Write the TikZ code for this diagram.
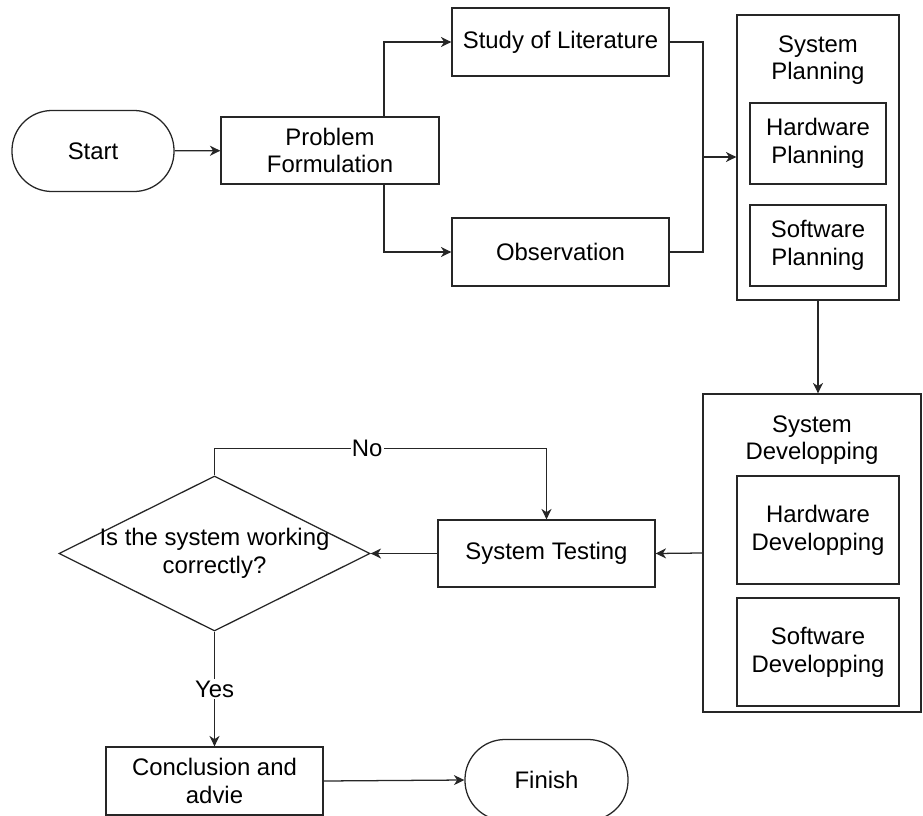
\documentclass[tikz,border=0pt]{standalone}
\usepackage{fontspec}
\setmainfont{Liberation Sans}
\usetikzlibrary{arrows.meta,shapes.geometric}
\def\flowfont{\fontsize{17}{19.7}\selectfont}
\tikzset{
	flow/.style={draw=black!85, line width=0.9pt, inner sep=0pt, align=center, font=\flowfont},
	procbox/.style={flow, rectangle, minimum width=5.425cm, minimum height=1.7cm},
	termbox/.style={flow, rectangle, rounded corners=1cm, minimum width=4.05cm, minimum height=2.025cm},
	groupbox/.style={flow, rectangle},
	titletext/.style={align=center, font=\flowfont, inner sep=0pt},
	lbl/.style={fill=white, inner sep=1pt, font=\flowfont},
	link/.style={draw=black!85, line width=0.9pt},
	arr/.style={link, -{Stealth[length=2.6mm, width=2.5mm, inset=0.8mm]}}
}

\begin{document}
\begin{tikzpicture}[x=0.025cm, y=-0.025cm]
			%%%%% START %%%%%
			\useasboundingbox (0, 0) rectangle (923, 816);
			
			\node[termbox] (start) at (93, 151) {Start};
			\node[procbox, minimum width=5.45cm, minimum height=1.675cm] (pf) at (330, 150.5) {Problem\\Formulation};
			\node[procbox] (lit) at (560.5, 42) {Study of Literature};
			\node[procbox] (obs) at (560.5, 252) {Observation};
			
			\node[groupbox, minimum width=4.05cm, minimum height=7.125cm] (sp) at (818, 157.5) {};
			\node[titletext] (sptitle) at (818, 60) {System\\Planning};
			\node[groupbox, minimum width=3.4cm, minimum height=2.025cm] (hwp) at (818, 143.5) {Hardware\\Planning};
			\node[groupbox, minimum width=3.4cm, minimum height=2.025cm] (swp) at (818, 245.5) {Software\\Planning};
			
			\node[groupbox, minimum width=5.45cm, minimum height=7.95cm] (sd) at (812, 553) {};
			\node[titletext] (sdtitle) at (812, 440) {System\\Developping};
			\node[groupbox, minimum width=4.05cm, minimum height=2.7cm] (hwd) at (818, 530) {Hardware\\Developping};
			\node[groupbox, minimum width=4.05cm, minimum height=2.7cm] (swd) at (818, 652) {Software\\Developping};
			
			\node[procbox, minimum height=1.675cm] (test) at (546.5, 553.5) {System Testing};
			\node[flow, diamond, minimum width=7.775cm, minimum height=3.875cm,
				label={[titletext]center:Is the system working\\correctly?}] (dia) at (214.5, 553.5) {};
			\node[procbox] (concl) at (214.5, 781) {Conclusion and\\advie};
			\node[termbox, minimum width=4.075cm] (fin) at (546.5, 780) {Finish};
			
			\coordinate (fork) at (384, 151);
			\coordinate (join) at (703, 157);
			
			\draw[arr] (start) -- (pf);
			\draw[arr] (pf.north -| fork) |- (lit.west);
			\draw[arr] (pf.south -| fork) |- (obs.west);
			\draw[link] (lit.east) -| (join) |- (obs.east);
			\draw[arr] (join) -- (join -| sp.west);
			
			\draw[arr] (sp.south) -- (sp.south |- sd.north);
			\draw[arr] (sd.west) -- (test.east);
			\draw[arr] (test.west) -- (dia.east);
			\draw[arr] (dia.north) -- ++(0, -27) -| node[lbl, pos=0.23] {No} (test.north);
			\draw[arr] (dia.south) -- node[lbl] {Yes} (concl.north);
			\draw[arr] (concl.east) -- (fin.west);
			%%%%% END %%%%%
\end{tikzpicture}
\end{document}
